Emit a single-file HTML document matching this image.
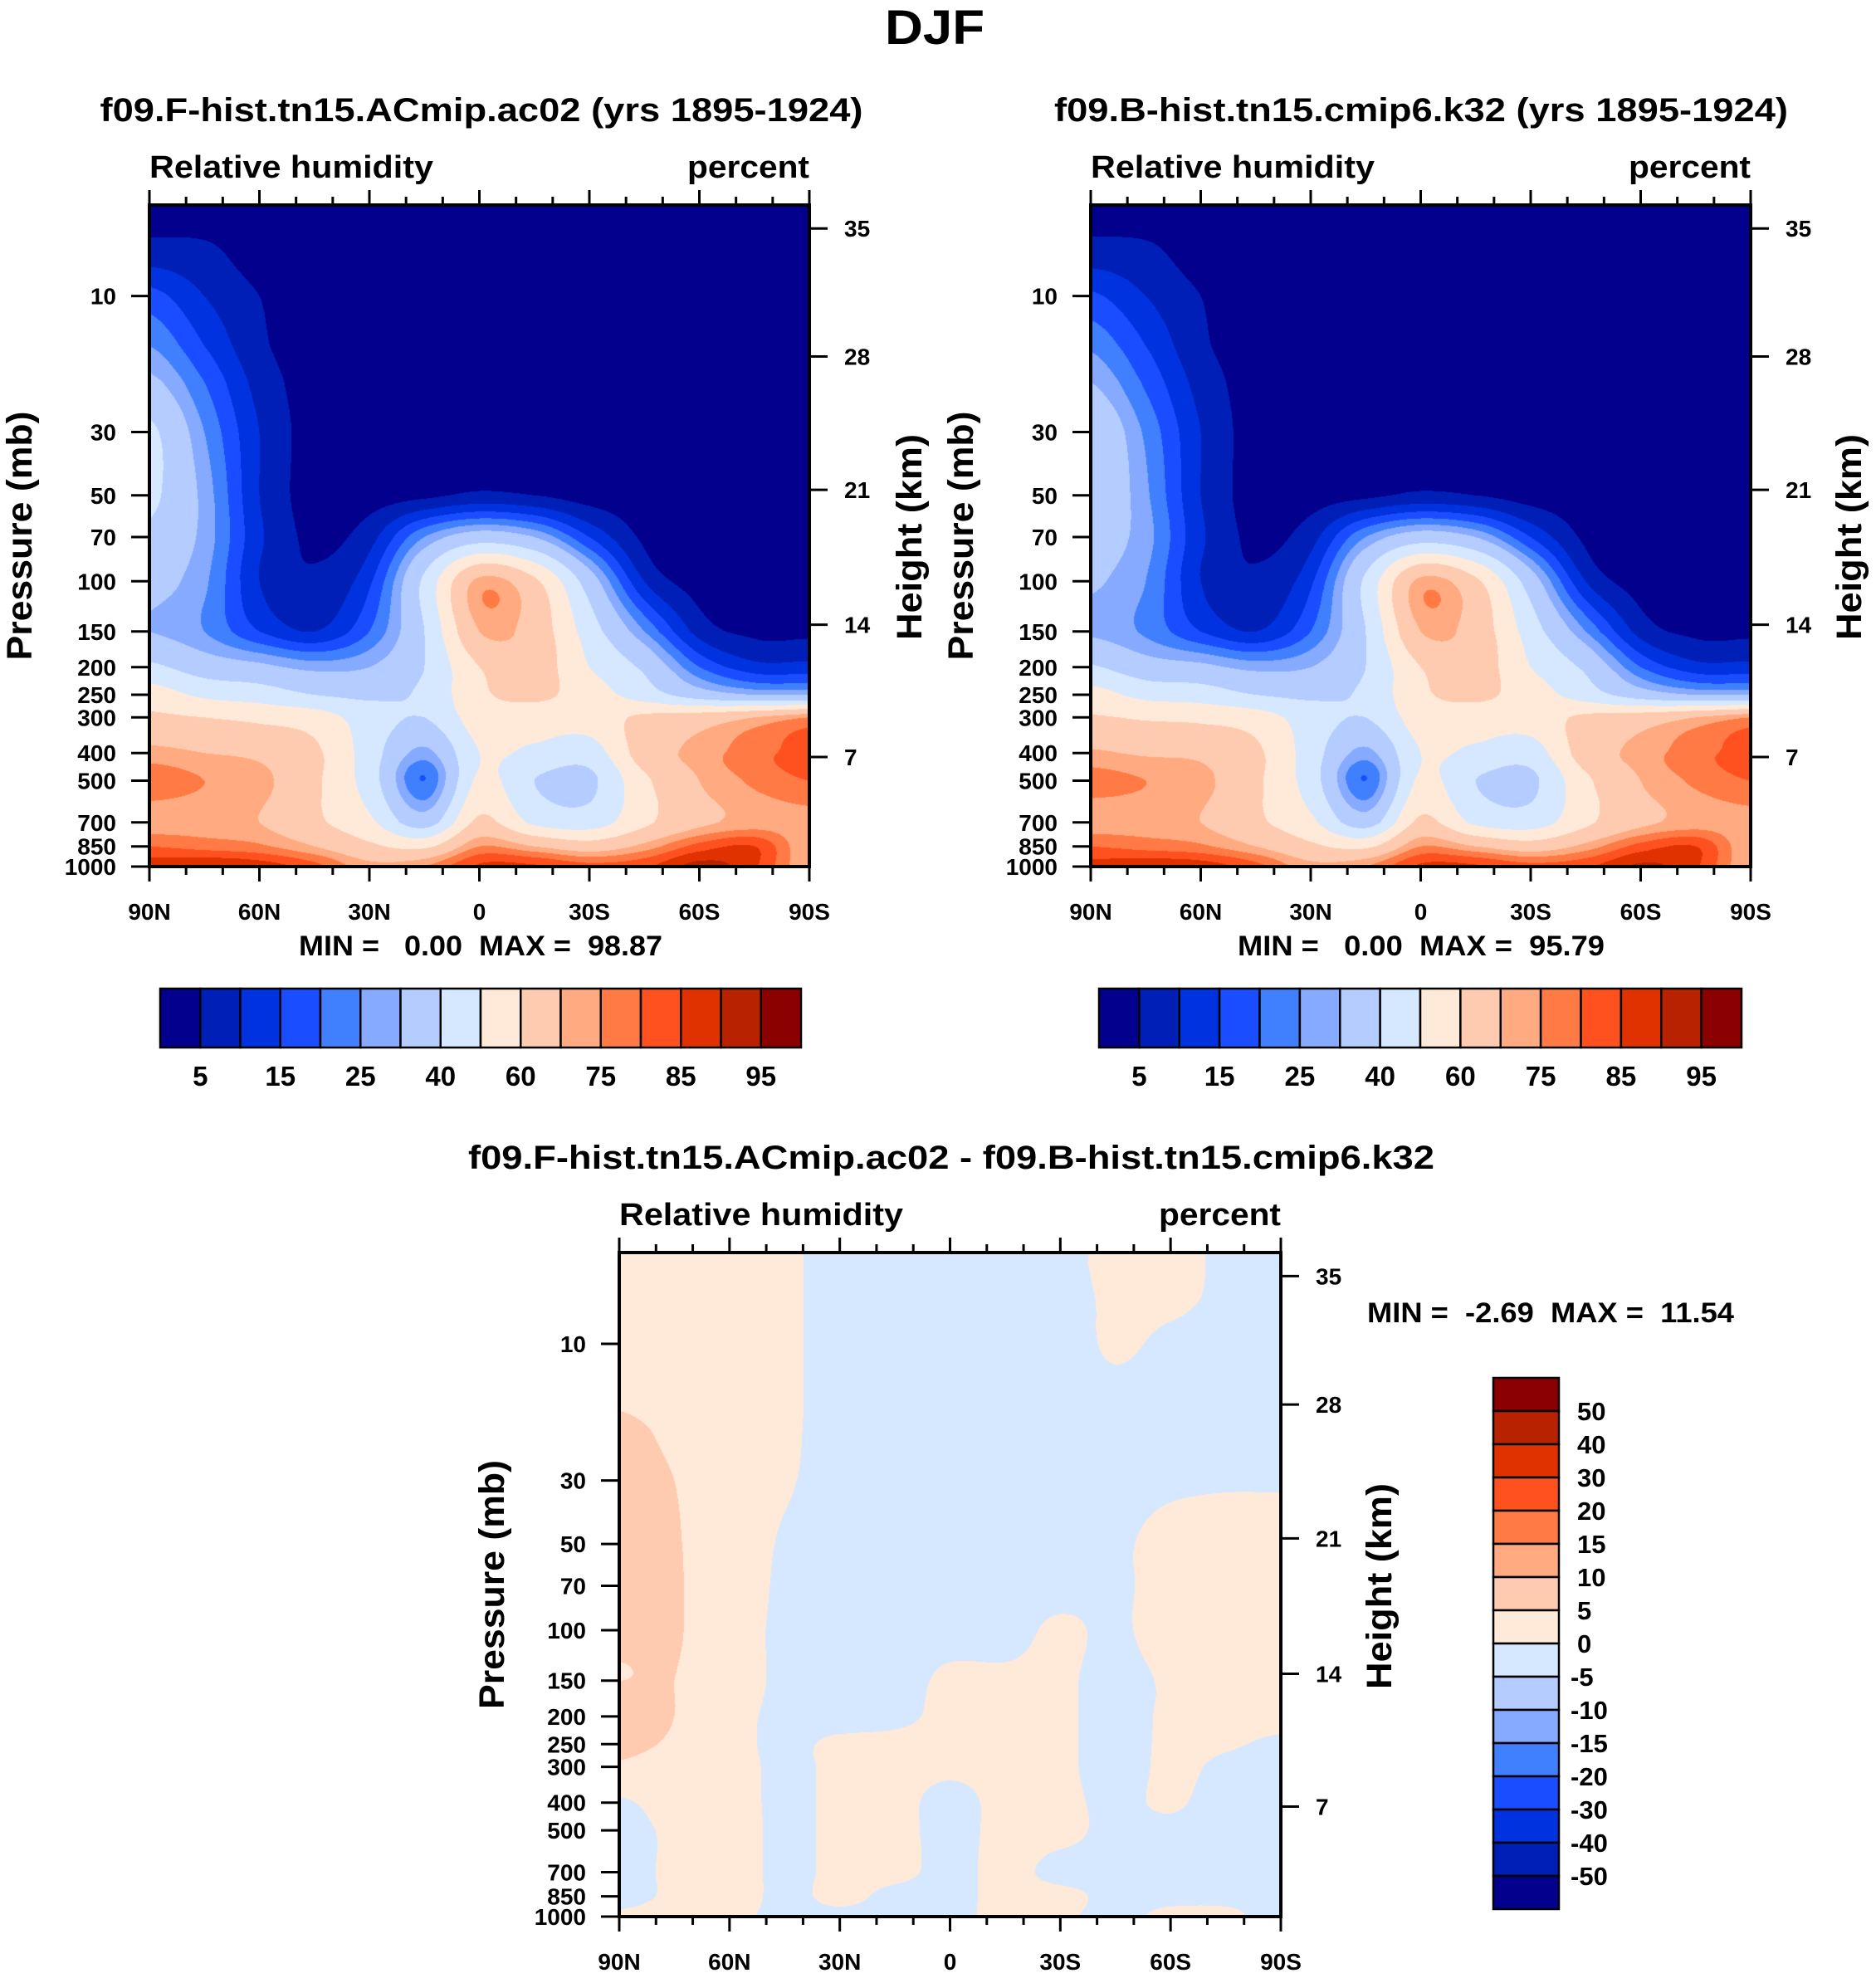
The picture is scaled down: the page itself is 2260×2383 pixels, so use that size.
<!DOCTYPE html>
<html><head><meta charset="utf-8">
<style>
html,body{margin:0;padding:0;background:#fff;}
#root{position:relative;width:2260px;height:2383px;overflow:hidden;background:#fff;}
canvas{position:absolute;}
svg{position:absolute;left:0;top:0;}
text{font-family:"Liberation Sans",sans-serif;font-weight:bold;fill:#000;white-space:pre;}
</style></head>
<body>
<div id="root">
<canvas id="c1" width="795" height="797" style="left:180px;top:247px"></canvas>
<canvas id="c2" width="795" height="797" style="left:1314px;top:247px"></canvas>
<canvas id="c3" width="797" height="800" style="left:746px;top:1509px"></canvas>
<svg id="ov" width="2260" height="2383"></svg>
</div>
<script>
// ---- data ----
const lats = [90,75,60,45,30,15,0,-15,-30,-45,-60,-75,-90];
const plevs = [5,7,10,15,20,30,50,70,100,150,200,250,300,400,500,700,850,1000];
const rhLevels = [5,10,15,20,25,30,40,50,60,70,75,80,85,90,95];
const rhColors = ["#02008c","#001fb6","#0032e0","#1a4dff","#4080ff","#85aaff","#b4ccff","#d6e8ff","#ffeada","#ffcbb0","#ffaa80","#ff7a45","#ff5020","#e03200","#b82200","#8b0000"];
const diffLevels = [-50,-40,-30,-20,-15,-10,-5,0,5,10,15,20,30,40,50];
const rhTickLabels = ["5","15","25","40","60","75","85","95"];
const diffTickLabels = ["-50","-40","-30","-20","-15","-10","-5","0","5","10","15","20","30","40","50"];
const pTicks = [10,30,50,70,100,150,200,250,300,400,500,700,850,1000];
const hTicks = [35,28,21,14,7];
const hTickP = [5.8,16.3,47.8,142,413];
const latTicks = [90,60,30,0,-30,-60,-90];
const latTickLabels = ["90N","60N","30N","0","30S","60S","90S"];

const rhF = [
[3,3,3,3,3,3,3,3,3,3,3,3,3],
[7,6,3,3,3,3,3,3,3,3,3,3,3],
[17,10,5,3,3,3,3,3,3,3,3,3,3],
[25,15,6,3,3,3,3,3,3,3,3,3,3],
[32,20,8,3,3,3,3,3,3,3,3,3,3],
[42,25,10,3,3,3,3,3,3,3,3,3,3],
[42,28,10,3,3,4,6,5,3,3,3,3,3],
[38,28,11,4,8,25,35,30,15,4,2,2,2],
[33,26,10,6,14,42,72,62,35,10,3,3,3],
[30,25,15,10,20,40,70,66,45,25,8,4,4],
[42,35,32,28,30,40,60,65,50,38,20,12,12],
[55,48,45,40,38,42,58,62,55,45,35,30,30],
[62,60,58,55,45,40,55,55,55,62,65,70,75],
[72,70,68,62,45,28,50,48,45,65,72,78,82],
[78,75,72,62,45,20,52,40,38,58,70,76,80],
[72,72,70,62,52,35,62,48,45,58,68,72,72],
[80,78,76,70,62,58,75,70,65,72,82,85,70],
[88,90,88,82,72,75,86,86,82,84,92,86,70]];

const rhB = [
[3,3,3,3,3,3,3,3,3,3,3,3,3],
[7,6,3,3,3,3,3,3,3,3,3,3,3],
[16,10,5,3,3,3,3,3,3,3,3,3,3],
[24,15,6,3,3,3,3,3,3,3,3,3,3],
[30,19,8,3,3,3,3,3,3,3,3,3,3],
[38,24,10,3,3,3,3,3,3,3,3,3,3],
[38,26,10,3,3,4,6,5,3,3,3,3,3],
[34,27,11,4,8,25,35,30,15,4,2,2,2],
[31,25,10,6,14,42,72,62,35,10,3,3,3],
[29,24,15,10,20,40,70,66,45,25,8,4,4],
[41,34,32,28,30,40,60,65,50,38,20,12,12],
[54,47,45,40,38,42,58,62,55,45,35,30,30],
[61,59,58,55,45,40,55,55,55,62,65,70,75],
[71,69,68,62,45,28,50,48,45,65,72,78,82],
[77,75,72,62,45,20,52,40,38,58,70,76,80],
[72,72,70,62,52,35,62,48,45,58,68,72,72],
[80,78,76,70,62,58,75,70,65,72,82,85,70],
[87,89,88,82,72,75,86,86,82,84,91,86,70]];

const diffF = [
[1,1,1,0.5,-1,-1,-1,-1,-1,1,1,-0.5,-0.5],
[1,1.5,1,0.5,-1,-1,-1,-1,-1,0.5,0.5,-0.5,-1],
[2,2,1,0.5,-1,-1,-1,-1,-1,0.3,-0.5,-1,-1],
[4,3,1,0.5,-1,-1,-1,-1,-1,-0.5,-1,-1,-1],
[6,4,1.5,0.5,-1,-1,-1,-1,-1,-1,-1,-1,-1],
[7,5,1.5,0.3,-1,-1,-1,-1,-1,-1,-0.5,-0.3,-0.3],
[9,5.5,2,-0.3,-1,-1,-1,-1,-1,-0.5,1,1.5,1.5],
[7,5.5,2,-0.5,-1,-1,-1,-1,-1,-0.5,1,1.5,1.5],
[6,5.5,1.5,-0.5,-1,-1,-1,-1,0.5,-0.5,1.5,1.5,1.5],
[5,5,1.5,-0.5,-1,-1,0.5,0.5,0.5,-1,0.5,1.5,1.5],
[9,5,1,-0.5,-1,-0.5,0.5,0.5,0.5,-1,0.5,1,1],
[7,4,1,-0.5,0.5,0.5,0.5,0.5,0.5,-1,0.5,0.3,-0.5],
[4,2,1,-0.5,0.5,0.5,0.3,0.5,0.5,-1,0.5,-0.5,-1],
[-0.5,1.5,1,-0.5,0.5,0.5,-0.5,0.5,0.5,-0.5,0.3,-1,-1],
[-1,0.5,1,-0.5,0.5,0.5,-0.5,0.5,0.5,-0.5,-0.5,-1,-0.5],
[-1,0.5,1,-0.5,0.5,0.5,-0.5,0.5,-0.5,-0.5,-0.5,-0.5,-0.5],
[-1,0.5,1,-0.5,0.5,-0.5,-0.5,0.5,0.5,-0.5,-0.5,-0.5,-0.5],
[0.5,1,0.5,-0.5,-0.5,-0.5,-0.5,0.5,0.3,-0.5,0.5,0.5,-1]];

const PTOP = 4.8;
// ---- field rendering (Catmull-Rom in index space) ----
const lps = plevs.map(Math.log10);
function cr(p0,p1,p2,p3,t){
  return 0.5*((2*p1)+(-p0+p2)*t+(2*p0-5*p1+4*p2-p3)*t*t+(-p0+3*p1-3*p2+p3)*t*t*t);
}
function sample(grid, lat, lp){
  const nx = lats.length, ny = plevs.length;
  let fi = (90 - lat) / 15; fi = Math.max(0, Math.min(nx - 1.0001, fi));
  const i = Math.floor(fi), tx = fi - i;
  if (lp <= lps[0]) lp = lps[0];
  let j = 0; while (j < ny - 2 && lp > lps[j + 1]) j++;
  let ty = (lp - lps[j]) / (lps[j + 1] - lps[j]); ty = Math.max(0, Math.min(1, ty));
  const ci = k => Math.max(0, Math.min(nx - 1, k));
  const cj = k => Math.max(0, Math.min(ny - 1, k));
  const rows = [];
  for (let m = -1; m <= 2; m++){
    const r = grid[cj(j + m)];
    rows.push(cr(r[ci(i-1)], r[ci(i)], r[ci(i+1)], r[ci(i+2)], tx));
  }
  return cr(rows[0], rows[1], rows[2], rows[3], ty);
}
function hex(h){return [parseInt(h.substr(1,2),16),parseInt(h.substr(3,2),16),parseInt(h.substr(5,2),16)];}
function drawField(id, grid, levels, colors){
  const cv = document.getElementById(id), ctx = cv.getContext('2d');
  const W = cv.width, H = cv.height, img = ctx.createImageData(W, H);
  const rgb = colors.map(hex);
  const lt = Math.log10(PTOP);
  for (let y = 0; y < H; y++){
    const lp = lt + (3 - lt) * (y + 0.5) / H;
    for (let x = 0; x < W; x++){
      const lat = 90 - 180 * (x + 0.5) / W;
      const v = sample(grid, lat, lp);
      let k = 0; while (k < levels.length && v >= levels[k]) k++;
      const c = rgb[k], o = (y * W + x) * 4;
      img.data[o] = c[0]; img.data[o+1] = c[1]; img.data[o+2] = c[2]; img.data[o+3] = 255;
    }
  }
  ctx.putImageData(img, 0, 0);
}
drawField('c1', rhF, rhLevels, rhColors);
drawField('c2', rhB, rhLevels, rhColors);
drawField('c3', diffF, diffLevels, rhColors);

// ---- overlay ----
const NS = "http://www.w3.org/2000/svg";
const ov = document.getElementById('ov');
function el(tag, attrs, parent){ const e = document.createElementNS(NS, tag); for (const k in attrs) e.setAttribute(k, attrs[k]); (parent || ov).appendChild(e); return e; }
function txt(s, x, y, size, anchor, len, parent){
  const a = {x:x, y:y, 'font-size':size, 'text-anchor':anchor || 'start'};
  if (len) { a.textLength = len; a.lengthAdjust = 'spacingAndGlyphs'; }
  const e = el('text', a, parent); e.setAttributeNS("http://www.w3.org/XML/1998/namespace", "xml:space", "preserve"); e.textContent = s; return e;
}
let t;
t = txt("DJF", 1126, 53, 58, 'middle', 120);



function panel(L, T, W, H, cfg){
  const g = el('g', {});
  
  
  const R = L + W, B = T + H;
  const lt = Math.log10(PTOP);
  const py = p => B - (3 - Math.log10(p)) / (3 - lt) * H;
  const lx = lat => L + (90 - lat) / 180 * W;
  let e;
  e = txt(cfg.title, cfg.titleX, cfg.titleY, 40, 'middle', cfg.titleW, g);
   
  e = txt("Relative humidity", L, T - 33, 38, 'start', 342, g);
   
  e = txt("percent", R, T - 33, 38, 'end', 147, g);
   
  for (let lat = 90; lat >= -90; lat -= 10){
    const x = lx(lat), major = lat % 30 === 0, len = major ? 18 : 10;
    el('line', {x1:x, y1:T, x2:x, y2:T - len, stroke:'#000', 'stroke-width':3}, g);
    el('line', {x1:x, y1:B, x2:x, y2:B + len, stroke:'#000', 'stroke-width':3}, g);
  }
  latTicks.forEach((lat, i) => {
    e = txt(latTickLabels[i], lx(lat), B + 64, 28, 'middle', null, g);
     
  });
  pTicks.forEach(p => {
    const y = py(p);
    el('line', {x1:L, y1:y, x2:L - 22, y2:y, stroke:'#000', 'stroke-width':3}, g);
    e = txt(String(p), L - 40, y + 10, 28, 'end', null, g);
     
  });
  hTicks.forEach((h, i) => {
    const y = py(hTickP[i]);
    el('line', {x1:R, y1:y, x2:R + 22, y2:y, stroke:'#000', 'stroke-width':3}, g);
    e = txt(String(h), R + 42, y + 10, 28, 'start', null, g);
     
  });
  e = el('rect', {x:L, y:T, width:W, height:H, fill:'none', stroke:'#000', 'stroke-width':4}, g);
   
  e = txt("Pressure (mb)", 0, 0, 43, 'middle', 300, g);
  e.setAttribute('transform', `translate(${cfg.pLabX},${(T + B) / 2}) rotate(-90)`);
   
  e = txt("Height (km)", 0, 0, 43, 'middle', 248, g);
  e.setAttribute('transform', `translate(${cfg.hLabX},${cfg.hLabY}) rotate(-90)`);
   
  e = txt(cfg.minmax, cfg.mmX, cfg.mmY, 34, 'start', cfg.mmW, g);
   
}
panel(180, 247, 795, 797, {name:'panel-model-f', title:'f09.F-hist.tn15.ACmip.ac02 (yrs 1895-1924)', titleX:580, titleY:146, titleW:919, pLabX:38, hLabX:1110, hLabY:647, minmax:'MIN =   0.00  MAX =  98.87', mmX:360, mmY:1151, mmW:438});
panel(1314, 247, 795, 797, {name:'panel-model-b', title:'f09.B-hist.tn15.cmip6.k32 (yrs 1895-1924)', titleX:1712, titleY:146, titleW:884, pLabX:1172, hLabX:2242, hLabY:647, minmax:'MIN =   0.00  MAX =  95.79', mmX:1491, mmY:1151, mmW:442});
panel(746, 1509, 797, 800, {name:'panel-difference', title:'f09.F-hist.tn15.ACmip.ac02 - f09.B-hist.tn15.cmip6.k32', titleX:1146, titleY:1408, titleW:1164, pLabX:607, hLabX:1676, hLabY:1911, minmax:'MIN =  -2.69  MAX =  11.54', mmX:1647, mmY:1593, mmW:442});

function hbar(L, T, W, H, name){
  const g = el('g', {});
   
  const bw = W / rhColors.length;
  rhColors.forEach((c, i) => {
    const r = el('rect', {x:L + i * bw, y:T, width:bw, height:H, fill:c, stroke:'#000', 'stroke-width':2.5}, g);
     
  });
  rhTickLabels.forEach((s, i) => {
    const e = txt(s, L + (2 * i + 1) * bw, T + H + 46, 33, 'middle', null, g);
     
  });
}
hbar(193, 1191, 772, 71, 'colorbar-model-f');
hbar(1324, 1191, 774, 71, 'colorbar-model-b');
(function(){
  const g = el('g', {});
   
  const L = 1799, T = 1660, W = 79, H = 640, n = rhColors.length, bh = H / n;
  for (let i = 0; i < n; i++){
    const r = el('rect', {x:L, y:T + i * bh, width:W, height:bh, fill:rhColors[n - 1 - i], stroke:'#000', 'stroke-width':2.5}, g);
     
  }
  for (let k = 1; k < n; k++){
    const lab = diffTickLabels[n - 1 - k];
    const e = txt(lab, lab.startsWith('-') ? 1892 : 1900, T + k * bh + 11, 31, 'start', null, g);
     
  }
})();
</script>
</body></html>
